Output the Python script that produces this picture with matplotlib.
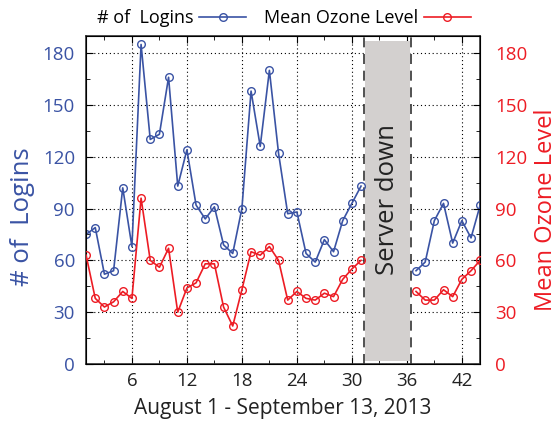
import numpy as np
import matplotlib
matplotlib.use('Agg')
import matplotlib.pyplot as plt
from matplotlib.ticker import MultipleLocator

plt.rcParams['font.family'] = ['Open Sans', 'DejaVu Sans']

nan = np.nan

# days since Aug 1 (1 = Aug 1, 44 = Sep 13)
days = list(range(1, 45))

# logins per day, server down on days 32-36
logins = [75, 79, 52, 54, 102, 68, 185, 130, 133, 166,
          103, 124, 92, 84, 91, 69, 64, 90, 158, 126,
          170, 122, 87, 88, 64, 59, 72, 65, 83, 93,
          103, nan, nan, nan, nan, nan, 54, 59, 83, 93,
          70, 83, 73, 92]

ozone = [63, 38, 33, 36, 42, 38, 96, 60, 56, 67,
         30, 44, 47, 58, 58, 33, 22, 43, 65, 63,
         68, 60, 37, 42, 38, 37, 41, 39, 49, 55,
         60, nan, nan, nan, nan, nan, 42, 37, 37, 43,
         39, 49, 54, 60]

down_start, down_end = 31.35, 36.4

blue = '#3a53a4'
red = '#ed1c24'

fig = plt.figure(figsize=(5.59, 4.29), dpi=100)
ax = fig.add_axes([0.154, 0.1515, 0.705, 0.765])
ax2 = ax.twinx()

# server down region
ax.axvspan(down_start + 0.05, down_end - 0.1, ymin=0.01, ymax=0.985,
           color='#d3d0cf', zorder=1, lw=0)
ax.axvline(down_start, color='#333333', ls=(0, (6, 4)), lw=1.2, zorder=2)
ax.axvline(down_end, color='#333333', ls=(0, (6, 4)), lw=1.2, zorder=2)
ax.text((down_start + down_end) / 2, 95, 'Server down', rotation=90,
        ha='center', va='center', fontsize=18.5, color='#222222', zorder=3)

l1, = ax.plot(days, logins, color=blue, marker='o', ms=5.5, mfc='none',
              mec=blue, mew=1.0, lw=1.2, zorder=4, label='# of  Logins')
l2, = ax2.plot(days, ozone, color=red, marker='o', ms=5.5, mfc='none',
               mec=red, mew=1.0, lw=1.2, zorder=4, label='Mean Ozone Level')

for a in (ax, ax2):
    a.set_xlim(1, 44)
    a.set_ylim(0, 190)
    a.yaxis.set_major_locator(MultipleLocator(30))
    a.yaxis.set_minor_locator(MultipleLocator(15))

ax.xaxis.set_major_locator(MultipleLocator(6))
ax.xaxis.set_minor_locator(MultipleLocator(3))
ax.grid(True, which='major', color='black', ls=(0, (1, 2.5)), lw=0.8, zorder=0)
ax.set_axisbelow(True)

ax.tick_params(axis='both', which='both', direction='in', top=True)
ax.tick_params(axis='y', which='both', right=False, labelsize=13.5,
               labelcolor=blue, pad=8)
ax.tick_params(axis='x', labelsize=13.5, labelcolor='#222222', pad=6)
ax.tick_params(which='major', length=5)
ax.tick_params(which='minor', length=3)
ax2.tick_params(axis='y', which='both', direction='in', labelsize=13.5,
                labelcolor=red, pad=11)
ax2.tick_params(which='major', length=5)
ax2.tick_params(which='minor', length=3)

for sp in ax.spines.values():
    sp.set_color('#333333')
    sp.set_linewidth(1.2)

ax.set_ylabel('# of  Logins', color=blue, fontsize=18.5)
ax.yaxis.set_label_coords(-0.13, 0.45)
ax2.set_ylabel('Mean Ozone Level', color=red, fontsize=17)
ax2.yaxis.set_label_coords(1.137, 0.47)
ax.set_xlabel('August 1 - September 13, 2013', fontsize=15, color='#222222')
ax.xaxis.set_label_coords(0.5, -0.105)

fig.legend(handles=[l1, l2], loc='center', bbox_to_anchor=(0.508, 0.957),
           ncol=2, frameon=False, markerfirst=False, fontsize=13,
           handlelength=2.6, columnspacing=1.0, handletextpad=0.3)

fig.savefig('out.png', dpi=100)
